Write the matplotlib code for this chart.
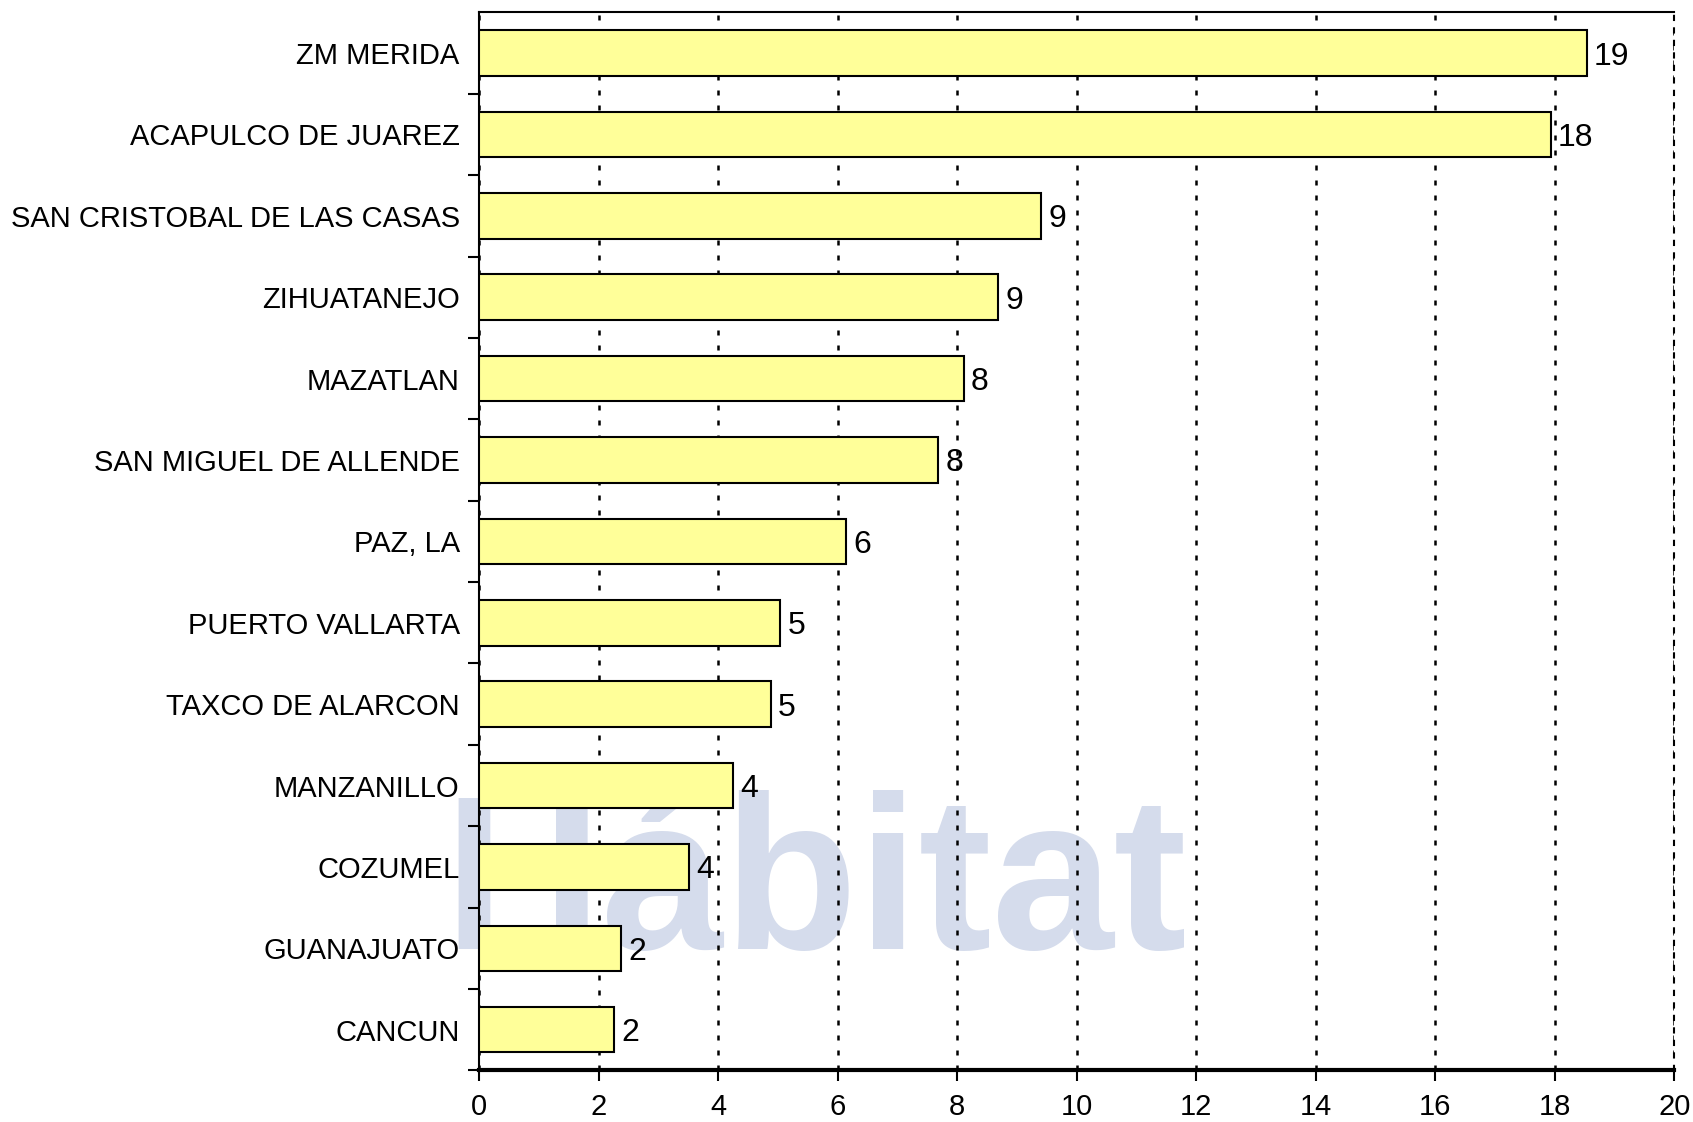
import matplotlib.pyplot as plt

plt.rcParams['font.family'] = ['Liberation Sans', 'DejaVu Sans']

cities = ["ZM MERIDA", "ACAPULCO DE JUAREZ", "SAN CRISTOBAL DE LAS CASAS",
          "ZIHUATANEJO", "MAZATLAN", "SAN MIGUEL DE ALLENDE", "PAZ, LA",
          "PUERTO VALLARTA", "TAXCO DE ALARCON", "MANZANILLO", "COZUMEL",
          "GUANAJUATO", "CANCUN"]
values = [18.53, 17.93, 9.41, 8.69, 8.11, 7.68, 6.14, 5.04, 4.88, 4.25, 3.52, 2.38, 2.26]
xticks = [0, 2, 4, 6, 8, 10, 12, 14, 16, 18, 20]

fig = plt.figure(figsize=(16.93, 11.22), dpi=100)
ax = fig.add_axes([0.283, 0.046, 0.706, 0.943])
ax.set_facecolor('none')

# faint watermark behind the plot
fig.text(0.262, 0.205, "Hábitat", fontsize=158, fontweight='bold',
         color='#d5dcec', ha='left', va='center', zorder=-5)

ypos = list(range(len(cities)))[::-1]
ax.barh(ypos, values, height=0.56, color='#ffff99', edgecolor='black',
        linewidth=1.5, zorder=3)
for y, v in zip(ypos, values):
    ax.text(v + 0.12, y, f"{v:.0f}", va='center_baseline', ha='left',
            fontsize=23, zorder=4)

ax.set_xlim(0, 20)
ax.set_ylim(-0.5, len(cities) - 0.5)
ax.set_xticks(xticks)
ax.set_xticklabels([str(t) for t in xticks], fontsize=21)
ax.set_yticks([y + 0.5 for y in ypos[1:]] + [-0.5], minor=False)
ax.set_yticklabels([])
ax.set_yticks(ypos, minor=True)
ax.set_yticklabels(cities, minor=True, fontsize=21)
ax.tick_params(axis='y', which='minor', length=0, pad=14)
ax.tick_params(axis='y', which='major', length=8, width=1.5)
ax.tick_params(axis='x', length=8, width=1.5, pad=8)

ax.grid(axis='x', linestyle=(0, (2, 4)), color='black', linewidth=1.8, zorder=1)
for s in ax.spines.values():
    s.set_linewidth(1.5)
ax.spines['bottom'].set_linewidth(3)
ax.spines['right'].set_linestyle((0, (2, 4)))

fig.savefig("out.png", dpi=100)
